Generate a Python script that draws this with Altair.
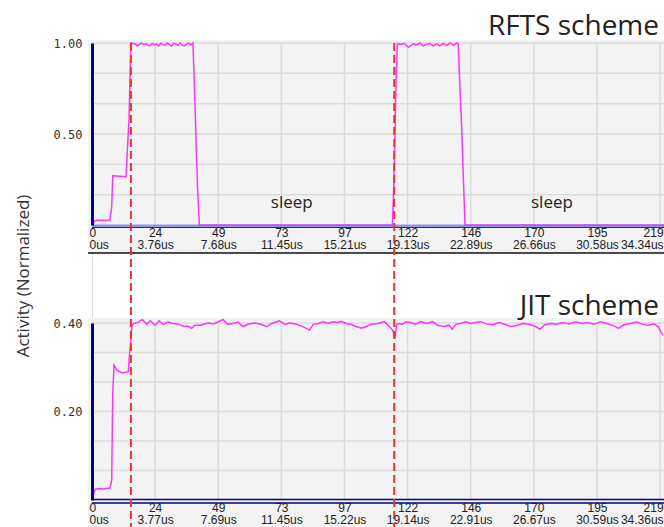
import json
import altair as alt
import pandas as pd

# ---- x axis: sample index ticks with their elapsed-time labels ----
tick_pos = [0, 24.333, 48.667, 73, 97.333, 121.667, 146, 170.333, 194.667, 219]
tick_num = ["0", "24", "49", "73", "97", "122", "146", "170", "195", "219"]
rfts_time = ["0us", "3.76us", "7.68us", "11.45us", "15.21us", "19.13us",
             "22.89us", "26.66us", "30.58us", "34.34us"]
jit_time = ["0us", "3.77us", "7.69us", "11.45us", "15.22us", "19.14us",
            "22.91us", "26.67us", "30.59us", "34.36us"]

# ---- RFTS scheme activity ----
rfts_x = [0, 1.2, 3.0, 5.0, 6.9, 7.6, 8.0, 10.5, 13.1, 13.6, 14.3, 14.6, 15.0,
          15.8, 16.6, 17.5, 18.3, 19.1, 19.9, 20.8, 21.6, 22.4, 23.2, 24.1, 24.9,
          25.7, 26.5, 27.4, 28.2, 29.0, 29.8, 30.7, 31.5, 32.3, 33.1, 34.0, 34.8,
          35.6, 36.4, 37.3, 38.1, 38.9, 39.4, 40.1, 40.7, 41.4,
          60.0, 90.0, 115.8, 116.3, 116.8, 117.2, 117.7,
          119.0, 120.4, 121.9, 123.9, 125.1, 126.4, 127.6, 128.9, 130.3, 131.6,
          132.9, 134.1, 135.4, 136.7, 138.0, 139.3, 140.6, 141.2,
          141.6, 142.5, 143.1, 143.8, 180.0, 220.5]
rfts_y = [0, 0.025, 0.026, 0.026, 0.027, 0.10, 0.27, 0.268, 0.265, 0.40, 0.59, 0.78, 1.0,
          0.997, 0.995, 0.984, 0.993, 0.999, 0.992, 0.996, 0.988, 0.985, 0.998, 0.99, 0.994,
          0.984, 0.999, 0.991, 0.988, 1.0, 0.993, 0.983, 0.998, 0.995, 0.986, 1.0, 0.988,
          0.984, 0.993, 0.999, 0.989, 1.0, 0.8, 0.47, 0.2, 0.0,
          0.0, 0.0, 0.0, 0.2, 0.5, 0.79, 0.995,
          0.993, 0.997, 0.976, 0.995, 0.99, 1.0, 0.984, 0.992, 0.998, 0.983,
          0.996, 0.984, 0.998, 0.986, 1.0, 0.987, 1.0, 0.995,
          0.835, 0.54, 0.28, 0.0, 0.0, 0.0]

# ---- JIT scheme activity ----
jit_x = [0, 1.2, 2.5, 4.5, 6.9, 7.6, 8.0, 8.5, 9.5, 11.4, 14.0, 14.4, 14.9, 15.4,
         16.6, 17.9, 19.4, 21.1, 22.4, 24.3, 25.8, 27.4, 29.3, 31.2, 33.0, 35.6, 37.0,
         38.4, 39.7, 41.6, 44.9, 47.0, 50.5, 52.4, 54.3, 56.3, 58.2, 60.1, 62.7, 65.2,
         67.2, 69.7, 72.3, 74.4, 76.3, 78.8, 81.0, 83.8, 85.3, 87.2, 89.1, 91.0, 92.9,
         94.8, 96.1, 98.0, 99.9, 101.8, 103.8, 105.7, 107.6, 110.2, 112.7, 114.6,
         115.9, 116.8, 117.4, 118.5, 119.7, 121.0, 122.9, 124.8, 126.7, 129.3, 131.2,
         133.2, 135.7, 137.6, 138.9, 140.2, 142.1, 144.1, 146.0, 147.9, 149.8, 152.0,
         154.5, 157.0, 159.0, 161.5, 164.0, 166.0, 168.5, 171.0, 172.7, 174.5, 177.0,
         179.0, 181.5, 184.0, 186.5, 189.0, 191.0, 193.5, 196.0, 198.5, 201.0, 203.0,
         205.0, 207.5, 210.0, 212.0, 214.5, 216.5, 218.3, 219.3, 220.2]
jit_y = [0, 0.024, 0.026, 0.025, 0.027, 0.045, 0.24, 0.305, 0.294, 0.287, 0.29, 0.324,
         0.355, 0.395,
         0.40, 0.402, 0.408, 0.397, 0.405, 0.395, 0.405, 0.397, 0.402, 0.399, 0.398,
         0.392, 0.393, 0.388, 0.395, 0.395, 0.40, 0.398, 0.408, 0.397, 0.399, 0.402,
         0.392, 0.397, 0.40, 0.397, 0.392, 0.40, 0.405, 0.397, 0.40, 0.397, 0.393,
         0.384, 0.397, 0.399, 0.403, 0.399, 0.403, 0.401, 0.404, 0.399, 0.397, 0.392,
         0.388, 0.392, 0.397, 0.399, 0.403, 0.392, 0.384, 0.365, 0.397, 0.399, 0.397,
         0.403, 0.401, 0.397, 0.403, 0.399, 0.403, 0.395, 0.392, 0.395, 0.386, 0.397,
         0.399, 0.403, 0.399, 0.401, 0.403, 0.398, 0.396, 0.401, 0.397, 0.392, 0.395,
         0.399, 0.397, 0.392, 0.386, 0.396, 0.399, 0.397, 0.401, 0.398, 0.403, 0.399,
         0.401, 0.397, 0.403, 0.399, 0.394, 0.388, 0.396, 0.399, 0.402, 0.398, 0.395,
         0.398, 0.392, 0.38, 0.372]

# scheduling events (red markers) and idle annotations
event_x = [15.0, 116.5]
sleep_x = [77.0, 177.3]
sleep_y = [0.12, 0.12]
sleep_txt = ["sleep", "sleep"]

rfts_ticks = [0.5, 1.0]
rfts_grid = [0.1667, 0.3333, 0.5, 0.6667, 0.8333, 1.0]
jit_ticks = [0.2, 0.4]
jit_grid = [0.0667, 0.1333, 0.2, 0.2667, 0.3333, 0.4]

# ---- layout (pixels, relative to the plotting origin) ----
W = 572
X_MAX = 220.5
TOP_Y0, TOP_Y1 = 0, 182      # RFTS panel band
BOT_Y0, BOT_Y1 = 280, 457    # JIT panel band
FULL_H = BOT_Y1

NAVY = "#000080"
MAGENTA = "#ff33ff"
RED = "#f03232"
PANEL = "#f3f3f3"
GRID = "#dcdcdc"
TXT = "#222222"

one = pd.DataFrame({"k": [0]})
ticks_df = pd.DataFrame({"t": tick_pos})
events_df = pd.DataFrame({"e": event_x})
XSCALE = alt.Scale(domain=[0, X_MAX], nice=False, zero=False)


def x_axis(times, y1):
    ticks_js = json.dumps(tick_pos)
    expr = (f"[{json.dumps(tick_num)}[indexof({ticks_js}, datum.value)], "
            f"{json.dumps(times)}[indexof({ticks_js}, datum.value)]]")
    return alt.Axis(
        orient="bottom", offset=y1 - FULL_H, values=tick_pos, labelExpr=expr,
        grid=False, domain=False, ticks=False, title=None,
        labelFont="Liberation Sans", labelFontSize=12, labelColor=TXT,
        labelPadding=2, labelLineHeight=12.5, labelFlush=5, labelFlushOffset=3,
        labelOverlap=False, zindex=1,
    )


def y_axis(yticks):
    return alt.Axis(
        orient="left", values=yticks, format=".2f", grid=False, ticks=False,
        title=None, domain=True, domainColor=NAVY, domainWidth=3,
        labelFont="DejaVu Sans Mono", labelFontSize=12, labelColor="#333333",
        labelPadding=10, zindex=1,
    )


def px(v):
    return alt.value(v)


layers = []

# panel backgrounds (the label strip under each plot is part of the panel)
layers.append(alt.Chart(one).mark_rect(color=PANEL).encode(
    x=px(-4), x2=px(W + 10), y=px(TOP_Y0 - 3), y2=px(TOP_Y1 + 28)))
layers.append(alt.Chart(one).mark_rect(color=PANEL).encode(
    x=px(-4), x2=px(W + 10), y=px(BOT_Y0 - 5), y2=px(BOT_Y1 + 40)))
layers.append(alt.Chart(one).mark_rule(color="#111111", strokeWidth=1.5).encode(
    x=px(-4), x2=px(W + 10), y=px(TOP_Y1 + 28)))


def panel_layers(xs, ys, ymax, yticks, ygrid, times, y0, y1, title):
    yscale = alt.Scale(domain=[0, ymax], range=[y1, y0], nice=False, zero=False)
    out = []
    # vertical grid
    out.append(alt.Chart(ticks_df).mark_rule(color=GRID, strokeWidth=1.5).encode(
        x=alt.X("t:Q", scale=XSCALE, axis=None), y=px(y0), y2=px(y1)))
    # horizontal grid
    out.append(alt.Chart(pd.DataFrame({"g": ygrid})).mark_rule(
        color=GRID, strokeWidth=1.5).encode(
        y=alt.Y("g:Q", scale=yscale, axis=None), x=px(0), x2=px(W + 10)))
    # activity trace, carrying this panel's axes
    out.append(alt.Chart(pd.DataFrame({"x": xs, "y": ys})).mark_line(
        color=MAGENTA, strokeWidth=1.5).encode(
        x=alt.X("x:Q", scale=XSCALE, axis=x_axis(times, y1)),
        y=alt.Y("y:Q", scale=yscale, axis=y_axis(yticks))))
    # panel title
    out.append(alt.Chart(one).mark_text(
        text=title, align="right", baseline="alphabetic", font="Open Sans",
        fontSize=28, color=TXT).encode(x=px(567), y=px(y0 - 8)))
    return out, yscale


top_layers, top_scale = panel_layers(rfts_x, rfts_y, 1.0, rfts_ticks, rfts_grid,
                                     rfts_time, TOP_Y0, TOP_Y1, "RFTS scheme")
bot_layers, bot_scale = panel_layers(jit_x, jit_y, 0.4, jit_ticks, jit_grid,
                                     jit_time, BOT_Y0, BOT_Y1, "JIT scheme")
layers += top_layers + bot_layers

# zero baselines
layers.append(alt.Chart(one).mark_rule(color="#7474dc", strokeWidth=3, opacity=0.75).encode(
    x=px(0), x2=px(W + 10), y=px(TOP_Y1 + 1)))
layers.append(alt.Chart(one).mark_rule(color=NAVY, strokeWidth=1, opacity=0.8).encode(
    x=px(0), x2=px(W + 10), y=px(TOP_Y1 + 2.5)))
layers.append(alt.Chart(one).mark_rule(color=NAVY, strokeWidth=1.3).encode(
    x=px(0), x2=px(W + 10), y=px(BOT_Y1 - 0.5)))
layers.append(alt.Chart(one).mark_rule(color=NAVY, strokeWidth=1.3).encode(
    x=px(0), x2=px(W + 10), y=px(BOT_Y1 + 3)))

# idle annotations in the RFTS panel
layers.append(alt.Chart(pd.DataFrame({"x": sleep_x, "y": sleep_y, "s": sleep_txt}))
              .mark_text(font="Open Sans", fontSize=17, color=TXT, baseline="middle")
              .encode(x=alt.X("x:Q", scale=XSCALE, axis=None),
                      y=alt.Y("y:Q", scale=top_scale, axis=None), text="s:N"))

# scheduling events, spanning both panels
layers.append(alt.Chart(events_df).mark_rule(color=RED, strokeWidth=2, strokeDash=[8, 4]).encode(
    x=alt.X("e:Q", scale=XSCALE, axis=None), y=px(TOP_Y0), y2=px(BOT_Y1 + 40)))

# shared y title
layers.append(alt.Chart(one).mark_text(
    text="Activity  (Normalized)", angle=270, align="center", baseline="middle",
    font="Open Sans", fontSize=17, color="#333333").encode(x=px(-68), y=px(233)))

chart = (
    alt.layer(*layers)
    .resolve_scale(x="independent", y="independent")
    .resolve_axis(x="independent", y="independent")
    .properties(
        width=W, height=FULL_H,
        autosize=alt.AutoSizeParams(type="none"),
        padding={"left": 92, "top": 43, "right": 0, "bottom": 27},
    )
    .configure_view(stroke=None)
    .configure(background="white")
)

chart.save("out.html", embed_options={"renderer": "svg", "actions": False})
